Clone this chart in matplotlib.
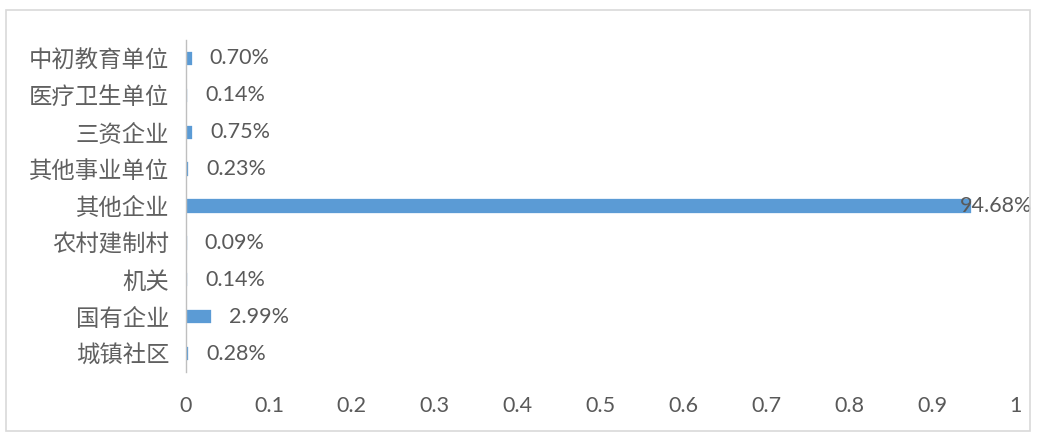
import matplotlib
matplotlib.use("Agg")
import matplotlib.pyplot as plt
from matplotlib.patches import Rectangle

categories = ["中初教育单位", "医疗卫生单位", "三资企业", "其他事业单位", "其他企业",
              "农村建制村", "机关", "国有企业", "城镇社区"]
values = [0.0070, 0.0014, 0.0075, 0.0023, 0.9468, 0.0009, 0.0014, 0.0299, 0.0028]
labels = ["0.70%", "0.14%", "0.75%", "0.23%", "94.68%", "0.09%", "0.14%", "2.99%", "0.28%"]
xticks = [0, 0.1, 0.2, 0.3, 0.4, 0.5, 0.6, 0.7, 0.8, 0.9, 1]
xticklabels = ["0", "0.1", "0.2", "0.3", "0.4", "0.5", "0.6", "0.7", "0.8", "0.9", "1"]

W, H = 1037, 432
fig = plt.figure(figsize=(W / 100, H / 100), dpi=100)
ax = fig.add_axes([186 / W, 1 - 372 / H, (1015 - 186) / W, (372 - 40) / H])

text_color = "#595959"
bar_color = "#5B9BD5"
cjk = ["Noto Sans CJK SC", "DejaVu Sans"]
num_font = ["Lato", "DejaVu Sans"]
num_size = 15.5

ypos = list(range(len(categories)))
ax.barh(ypos, values, height=0.36, color=bar_color, edgecolor=bar_color, linewidth=0.2)
ax.set_ylim(len(categories) - 0.5, -0.5)
ax.set_xlim(0, 1)

ax.set_yticks(ypos)
ax.set_yticklabels(categories, fontfamily=cjk, fontsize=16.8, color="#606060")
ax.set_xticks(xticks)
ax.set_xticklabels(xticklabels, fontfamily=num_font, fontsize=num_size, color=text_color)
ax.tick_params(axis="both", length=0)
ax.tick_params(axis="y", pad=12)
ax.tick_params(axis="x", pad=17)

for s in ["top", "right", "bottom"]:
    ax.spines[s].set_visible(False)
ax.spines["left"].set_color("#BFBFBF")
ax.spines["left"].set_linewidth(1.0)

for i, (v, lab) in enumerate(zip(values, labels)):
    if v > 0.9:
        ax.annotate(lab, (v, i), xytext=(-11, 0), textcoords="offset pixels",
                    ha="left", va="center", fontfamily=num_font, fontsize=num_size,
                    color=text_color, annotation_clip=False)
    else:
        ax.annotate(lab, (v, i), xytext=(18, 0), textcoords="offset pixels",
                    ha="left", va="center", fontfamily=num_font, fontsize=num_size,
                    color=text_color)

fig.patches.append(Rectangle((6 / W, 1 / H), (1030 - 6) / W, (422 - 1) / H,
                             transform=fig.transFigure, fill=False,
                             edgecolor="#D9D9D9", linewidth=1.2))

fig.savefig("out.png", dpi=100, facecolor="white")
